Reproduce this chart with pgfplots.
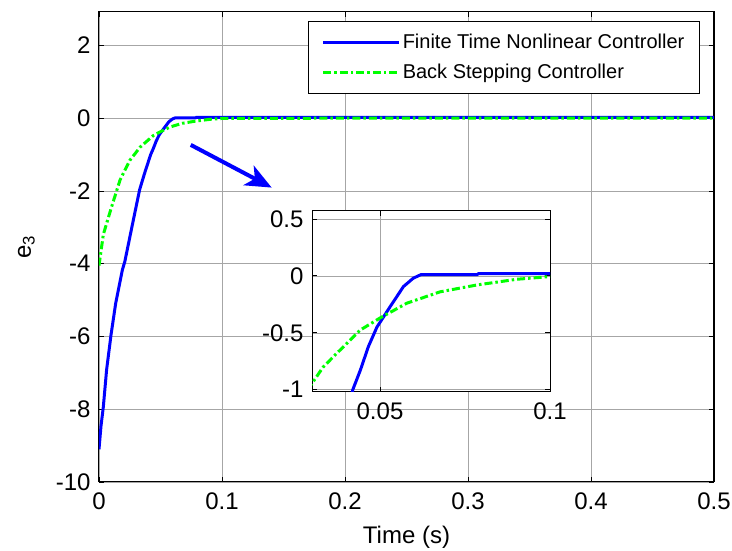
\documentclass[border=0pt]{standalone}
\usepackage{pgfplots}
\pgfplotsset{compat=1.18}
\usepackage{fontspec}
\setmainfont{Liberation Sans}
\usetikzlibrary{arrows.meta}
\definecolor{mblue}{rgb}{0,0,1}
\definecolor{mgreen}{rgb}{0,1,0}
\pgfplotstableread{
t y
0 -9.1
0.0016 -8.47
0.0035 -7.94
0.0062 -6.91
0.0098 -5.95
0.0136 -5.08
0.019 -4.17
0.021 -3.94
0.027 -2.95
0.033 -1.97
0.037 -1.52
0.042 -1.0
0.0442 -0.83
0.0466 -0.62
0.0491 -0.45
0.053 -0.27
0.0569 -0.094
0.0598 -0.02
0.062 0.01
0.0785 0.01
0.079 0.02
0.5 0.02
}\bluedata
\pgfplotstableread{
t y
0 -4.05
0.0035 -3.2
0.007 -2.8
0.0103 -2.43
0.0171 -1.70
0.0252 -1.15
0.03 -0.945
0.0333 -0.80
0.0373 -0.68
0.0442 -0.476
0.05 -0.37
0.0579 -0.24
0.0677 -0.14
0.0785 -0.08
0.0902 -0.03
0.1 -0.006
0.12 -0.001
0.5 0
}\greendata
\pgfplotsset{
  mystyle/.style={
    scale only axis,
    axis line style={line width=1pt},
    tick align=inside,
    major tick length=5pt,
    tick style={black, line width=0.8pt},
    grid=major,
    grid style={gray!70, line width=0.5pt},
    /pgf/number format/assume math mode=true,
    /pgf/number format/.cd, fixed, precision=2, /pgfplots/.cd,
    ticklabel style={font=\fontsize{24}{24}\selectfont},
    xticklabel style={yshift=-7pt},
    yticklabel style={xshift=-5pt},
    scaled ticks=false,
  },
  bl/.style={mblue, line width=3pt},
  gr/.style={mgreen, line width=3pt, dash pattern=on 8pt off 3pt on 2.5pt off 3pt},
}
\begin{document}
\begin{tikzpicture}
\begin{axis}[mystyle,
  at={(0pt,0pt)}, anchor=south west,
  width=615pt, height=470pt,
  xmin=0, xmax=0.5, ymin=-10, ymax=2.92,
  xtick={0,0.1,0.2,0.3,0.4,0.5},
  ytick={-10,-8,-6,-4,-2,0,2},
  xlabel={Time (s)},
  ylabel={e\textsubscript{3}},
  every axis x label/.style={at={(axis description cs:0.5,-0.117)}, anchor=center, font=\fontsize{24}{24}\selectfont},
  every axis y label/.style={at={(axis description cs:-0.118,0.5)}, rotate=90, anchor=center, font=\fontsize{24}{24}\selectfont},
  legend style={at={(axis description cs:0.977,0.981)}, anchor=north east,
    draw=black, line width=1pt, fill=white,
    font=\fontsize{20}{24}\selectfont, cells={anchor=west},
    row sep=10pt, inner xsep=13pt, inner ysep=11pt},
  legend image code/.code={\draw[#1] (0pt,0pt) -- (76pt,0pt);},
]
\addplot[bl] table[x=t,y=y] {\bluedata};
\addlegendentry{Finite Time Nonlinear Controller}
\addplot[gr] table[x=t,y=y] {\greendata};
\addlegendentry{Back Stepping Controller}
\draw[mblue, line width=4pt, -{Stealth[length=26pt,width=22pt,inset=7pt]}] (axis cs:0.0746,-0.733) -- (axis cs:0.1404,-1.907);
\end{axis}
\begin{axis}[mystyle,
  at={(213pt,90pt)}, anchor=south west,
  width=238pt, height=181pt,
  axis background/.style={fill=white},
  xmin=0.03, xmax=0.1, ymin=-1.02, ymax=0.57,
  xtick={0.05,0.1},
  ytick={-1,-0.5,0,0.5},
]
\addplot[bl] table[x=t,y=y] {\bluedata};
\addplot[gr] table[x=t,y=y] {\greendata};
\end{axis}
\pgfresetboundingbox
\path (-99pt,-69pt) rectangle (633pt,482pt);
\end{tikzpicture}
\end{document}
